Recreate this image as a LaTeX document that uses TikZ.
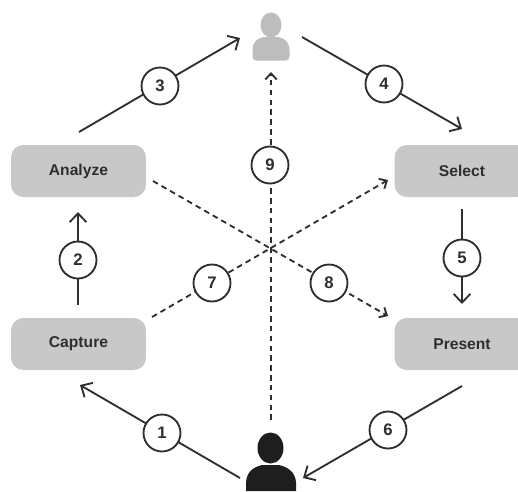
\documentclass[tikz,border=0pt]{standalone}
\usepackage{fontspec}
\setmainfont{Liberation Sans}
\usetikzlibrary{arrows.meta}
\definecolor{boxgray}{HTML}{C8C8C8}
\definecolor{linegray}{HTML}{2E2E2E}
\definecolor{usergray}{HTML}{BDBDBD}
\definecolor{userblack}{HTML}{1E1E1E}
\tikzstyle{stepbox} = [rectangle, rounded corners=7pt, fill=boxgray, minimum width=2.7cm, minimum height=1.04cm, inner sep=0pt, font=\fontsize{8.9}{10}\selectfont\bfseries, text=linegray]
\tikzstyle{num} = [circle, draw=linegray, line width=1.05pt, fill=white, minimum size=0.74cm, inner sep=0pt, font=\fontsize{9.5}{11}\selectfont\bfseries, text=linegray]
\tikzstyle{arrow} = [line width=1.05pt, draw=linegray, -{Straight Barb[length=5pt,width=9.5pt]}]
\tikzstyle{dasharrow} = [line width=1.05pt, draw=linegray, dash pattern=on 3.2pt off 2.4pt, -{Straight Barb[length=3.5pt,width=6.5pt,line width=1.05pt]}]
\begin{document}
\begin{tikzpicture}[x=0.02cm,y=-0.02cm]
\useasboundingbox (0,0) rectangle (518,491);

\node [stepbox] (analyze) at (78.5,171) {Analyze};
\node [stepbox] (capture) at (78.5,344) {Capture};
\node [stepbox] (select) at (462,171) {Select};
\node [stepbox] (present) at (462,344) {Present};

% top user
\fill [usergray] (271,25) ellipse (10.5 and 12.5);
\fill [usergray] (256,60.5) .. controls (253,60.5) and (252.5,58) .. (252.5,56) -- (252.5,50) .. controls (253,41) and (258,38) .. (264,37) -- (278,37) .. controls (284,38) and (289,41) .. (289.5,50) -- (289.5,56) .. controls (289.5,58) and (289,60.5) .. (286,60.5) -- cycle;

% bottom user
\fill [userblack] (270.5,448) ellipse (13 and 15.5);
\fill [userblack] (246,491) -- (246,482) .. controls (247,471) and (254,467) .. (262,465) -- (279,465) .. controls (287,467) and (295,471) .. (296,482) -- (296,491) -- cycle;

\coordinate (s1) at (240,478);
\coordinate (e1) at (80,385);
\coordinate (s2) at (78,305);
\coordinate (e2) at (78,212);
\coordinate (s3) at (79,132);
\coordinate (e3) at (240,38);
\coordinate (s4) at (302,37);
\coordinate (e4) at (462,129);
\coordinate (s5) at (462,209);
\coordinate (e5) at (462,304);
\coordinate (s6) at (462,386);
\coordinate (e6) at (303,478);
\coordinate (s7) at (152,317);
\coordinate (e7) at (388,180);
\coordinate (s8) at (153,181);
\coordinate (e8) at (388,316);
\coordinate (s9) at (271,420);
\coordinate (e9) at (271,72);

\draw [arrow] (s1) to (e1);
\draw [arrow] (s2) to (e2);
\draw [arrow] (s3) to (e3);
\draw [arrow] (s4) to (e4);
\draw [arrow] (s5) to (e5);
\draw [arrow] (s6) to (e6);
\draw [dasharrow] (s7) to (e7);
\draw [dasharrow] (s8) to (e8);
\draw [dasharrow] (s9) to (e9);

\node [num] (n1) at (162,433) {1};
\node [num] (n2) at (78,260) {2};
\node [num] (n3) at (160,86) {3};
\node [num] (n4) at (384,84) {4};
\node [num] (n5) at (462,258) {5};
\node [num] (n6) at (388,430) {6};
\node [num] (n7) at (212,283) {7};
\node [num] (n8) at (329,283) {8};
\node [num] (n9) at (270,165) {9};
\end{tikzpicture}
\end{document}
